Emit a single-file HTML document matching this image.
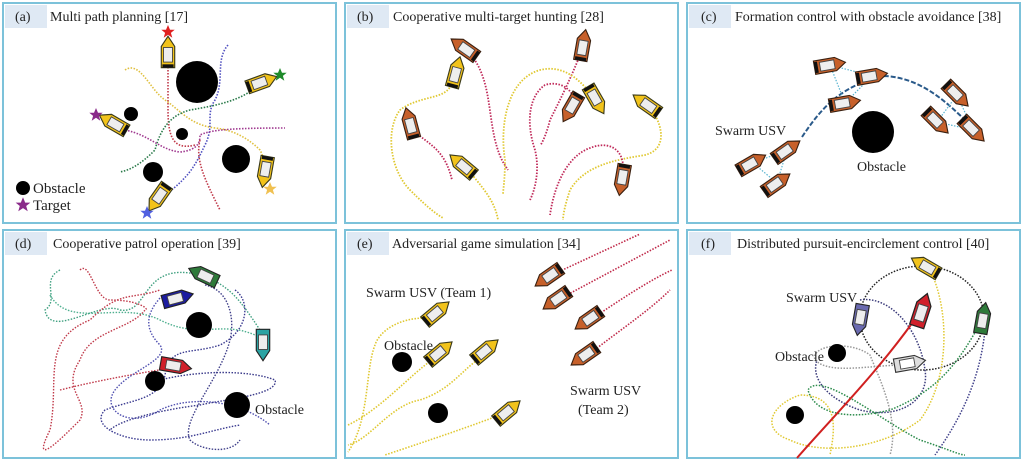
<!DOCTYPE html>
<html><head><meta charset="utf-8"><style>
html,body{margin:0;padding:0;background:#fff;width:1024px;height:461px;overflow:hidden}
svg{display:block}
text{font-family:"Liberation Serif",serif;fill:#222}
</style></head><body>
<svg width="1024" height="461" viewBox="0 0 1024 461" xmlns="http://www.w3.org/2000/svg">
<defs>
<g id="by" transform="scale(1.12)"><path d="M-14,-6 L5,-6 L14,0 L5,6 L-14,6 Z" fill="#f2c31a" stroke="#3a3a1a" stroke-width="1"/><rect x="-9" y="-4" width="13" height="8" fill="#eee" stroke="#444" stroke-width="0.8"/><rect x="-14" y="-5" width="3" height="10" fill="#111"/></g>
<g id="bb" transform="scale(1.12)"><path d="M-14,-6 L5,-6 L14,0 L5,6 L-14,6 Z" fill="#c7602a" stroke="#3a2010" stroke-width="1"/><rect x="-9" y="-4" width="13" height="8" fill="#eee" stroke="#444" stroke-width="0.8"/><rect x="-14" y="-5" width="3" height="10" fill="#111"/></g>
<g id="bg" transform="scale(1.12)"><path d="M-14,-6 L5,-6 L14,0 L5,6 L-14,6 Z" fill="#2e7a3a" stroke="#222" stroke-width="1"/><rect x="-9" y="-4" width="13" height="8" fill="#eee" stroke="#444" stroke-width="0.8"/></g>
<g id="bu" transform="scale(1.12)"><path d="M-14,-6 L5,-6 L14,0 L5,6 L-14,6 Z" fill="#1c1ca0" stroke="#222" stroke-width="1"/><rect x="-9" y="-4" width="13" height="8" fill="#eee" stroke="#444" stroke-width="0.8"/></g>
<g id="bc" transform="scale(1.12)"><path d="M-14,-6 L5,-6 L14,0 L5,6 L-14,6 Z" fill="#2aa3a3" stroke="#222" stroke-width="1"/><rect x="-9" y="-4" width="13" height="8" fill="#eee" stroke="#444" stroke-width="0.8"/></g>
<g id="br" transform="scale(1.12)"><path d="M-14,-6 L5,-6 L14,0 L5,6 L-14,6 Z" fill="#d0202a" stroke="#222" stroke-width="1"/><rect x="-9" y="-4" width="13" height="8" fill="#eee" stroke="#444" stroke-width="0.8"/></g>
<g id="bp" transform="scale(1.12)"><path d="M-14,-6 L5,-6 L14,0 L5,6 L-14,6 Z" fill="#6a6ab0" stroke="#222" stroke-width="1"/><rect x="-9" y="-4" width="13" height="8" fill="#eee" stroke="#444" stroke-width="0.8"/></g>
<g id="bw" transform="scale(1.12)"><path d="M-14,-6 L5,-6 L14,0 L5,6 L-14,6 Z" fill="#ddd" stroke="#333" stroke-width="1"/><rect x="-9" y="-4" width="13" height="8" fill="#fff" stroke="#444" stroke-width="0.8"/></g>
<path id="star" d="M0,-7 L2,-2.2 L6.7,-2.2 L2.9,0.9 L4.3,5.7 L0,2.8 L-4.3,5.7 L-2.9,0.9 L-6.7,-2.2 L-2,-2.2 Z"/>
</defs>

<g fill="none" stroke="#7cc2da" stroke-width="2">
<rect x="3" y="3" width="333" height="220"/><rect x="345" y="3" width="333" height="220"/><rect x="687" y="3" width="333" height="220"/>
<rect x="3" y="230" width="333" height="228"/><rect x="345" y="230" width="333" height="228"/><rect x="687" y="230" width="333" height="228"/>
</g>
<g fill="#dfe9f4">
<rect x="5" y="5" width="42" height="23"/><rect x="347" y="5" width="42" height="23"/><rect x="689" y="5" width="42" height="23"/>
<rect x="5" y="232" width="42" height="23"/><rect x="347" y="232" width="42" height="23"/><rect x="689" y="232" width="42" height="23"/>
</g>
<g font-size="14">
<text x="15" y="21">(a)</text><text x="50" y="21">Multi path planning [17]</text>
<text x="357" y="21">(b)</text><text x="393" y="21">Cooperative multi-target hunting [28]</text>
<text x="701" y="21">(c)</text><text x="735" y="21">Formation control with obstacle avoidance [38]</text>
<text x="15" y="248">(d)</text><text x="53" y="248">Cooperative patrol operation [39]</text>
<text x="357" y="248">(e)</text><text x="392" y="248">Adversarial game simulation [34]</text>
<text x="701" y="248">(f)</text><text x="737" y="248">Distributed pursuit-encirclement control [40]</text>
</g>

<!-- (a) -->
<g fill="none" stroke-width="1.6" stroke-dasharray="1.5 1.5">
<path d="M168,58 L168,110 C168,140 175,150 195,145" stroke="#c03a4a"/>
<path d="M125,70 C140,60 150,90 165,100 C180,110 190,125 215,128 C235,130 250,140 260,150 C265,160 265,165 265,170" stroke="#e0c040"/>
<path d="M228,45 C215,60 225,80 215,100 C205,115 215,125 205,145 C195,165 190,180 150,205" stroke="#5050c0"/>
<path d="M255,88 C240,100 220,105 190,110 C170,115 160,130 155,150 C140,165 130,170 120,172" stroke="#2a7a4a"/>
<path d="M125,130 C150,135 160,150 180,152 C200,150 200,140 200,135 C210,130 230,128 285,128" stroke="#a03a90"/>
<path d="M200,140 C195,160 205,180 220,210" stroke="#c03a4a"/>
</g>
<use href="#by" transform="translate(168,52) rotate(-90)"/>
<use href="#by" transform="translate(262,82) rotate(-20)"/>
<use href="#by" transform="translate(113,123) rotate(-150)"/>
<use href="#by" transform="translate(158,198) rotate(125)"/>
<use href="#by" transform="translate(265,172) rotate(100)"/>
<use href="#star" fill="#e02020" transform="translate(168,32)"/>
<use href="#star" fill="#1e8a2a" transform="translate(280,75)"/>
<use href="#star" fill="#8a2a8a" transform="translate(96,115)"/>
<use href="#star" fill="#5060e0" transform="translate(147,213)"/>
<use href="#star" fill="#f0c050" transform="translate(270,189)"/>
<g fill="#000"><circle cx="197" cy="82" r="21"/><circle cx="131" cy="114" r="7"/><circle cx="182" cy="134" r="6"/><circle cx="236" cy="159" r="14"/><circle cx="153" cy="172" r="10"/><circle cx="23" cy="188" r="7"/></g>
<use href="#star" fill="#8a2a8a" transform="translate(23,205) scale(1.1)"/>
<text x="33" y="193" font-size="15">Obstacle</text><text x="33" y="210" font-size="15">Target</text>

<!-- (b) -->
<g fill="none" stroke-width="1.8" stroke-dasharray="1.5 1.5">
<path d="M472,56 C490,80 488,110 495,140 C500,160 505,165 508,170" stroke="#c02a5a"/>
<path d="M451,85 C445,100 420,95 400,110 C385,130 390,170 410,190 C430,210 438,215 443,218" stroke="#e0c830"/>
<path d="M415,132 C430,145 445,150 452,180" stroke="#c02a5a"/>
<path d="M470,172 C480,185 495,200 498,220" stroke="#e0c830"/>
<path d="M580,55 C570,80 560,100 550,120 C545,140 540,145 541,145" stroke="#c02a5a"/>
<path d="M598,105 C580,75 560,65 540,70 C505,80 500,130 505,160 C505,180 503,190 503,195" stroke="#e0c830"/>
<path d="M575,105 C575,90 560,80 545,85 C530,95 525,120 535,150 C540,170 535,190 530,200" stroke="#c02a5a"/>
<path d="M652,110 C665,130 665,150 645,155 C615,160 585,165 570,190 C565,205 563,215 563,220" stroke="#e0c830"/>
<path d="M623,172 C625,150 610,140 590,148 C570,155 555,180 550,215" stroke="#c02a5a"/>
</g>
<use href="#bb" transform="translate(464,48) rotate(-145)"/>
<use href="#by" transform="translate(456,72) rotate(-75)"/>
<use href="#bb" transform="translate(410,123) rotate(-105)"/>
<use href="#by" transform="translate(462,165) rotate(-140)"/>
<use href="#bb" transform="translate(583,45) rotate(-80)"/>
<use href="#bb" transform="translate(571,108) rotate(120)"/>
<use href="#by" transform="translate(596,100) rotate(60)"/>
<use href="#by" transform="translate(646,104) rotate(-145)"/>
<use href="#bb" transform="translate(622,180) rotate(100)"/>

<!-- (c) -->
<path d="M802,137 C820,110 840,85 885,76 C920,78 945,100 970,125" fill="none" stroke="#2a5a8a" stroke-width="2" stroke-dasharray="5 2"/>
<g fill="none" stroke="#5ab4d0" stroke-width="1.2" stroke-dasharray="1.5 1.5">
<path d="M830,65 L872,76 L845,103 Z"/><path d="M957,95 L937,122 L973,130 Z"/><path d="M787,150 L753,163 L777,183 Z"/>
</g>
<use href="#bb" transform="translate(830,65) rotate(-10)"/>
<use href="#bb" transform="translate(872,76) rotate(-10)"/>
<use href="#bb" transform="translate(845,103) rotate(-10)"/>
<use href="#bb" transform="translate(957,95) rotate(45)"/>
<use href="#bb" transform="translate(937,122) rotate(45)"/>
<use href="#bb" transform="translate(973,130) rotate(45)"/>
<use href="#bb" transform="translate(787,150) rotate(-35)"/>
<use href="#bb" transform="translate(752,163) rotate(-30)"/>
<use href="#bb" transform="translate(777,183) rotate(-35)"/>
<circle cx="873" cy="132" r="21" fill="#000"/>
<text x="715" y="135" font-size="14">Swarm USV</text><text x="857" y="171" font-size="14">Obstacle</text>

<!-- (d) -->
<g fill="none" stroke-width="1.4" stroke-dasharray="1.5 1.5">
<path d="M60,270 C40,280 60,300 45,310 C50,340 100,300 120,310 C150,315 140,260 200,275 C230,285 240,300 260,330" stroke="#40a080"/>
<path d="M50,295 C70,330 120,300 160,320 C200,340 220,320 255,335" stroke="#50b090"/>
<path d="M80,270 C90,260 95,300 110,300 C140,300 150,310 145,310 C130,330 90,330 80,360 C60,390 90,400 80,420 C60,440 30,470 50,430 C60,380 40,340 90,320 C120,290 130,300 160,290" stroke="#c03a4a"/>
<path d="M60,390 C100,380 130,375 170,368" stroke="#c03a4a"/>
<path d="M160,298 C145,315 145,330 160,345 C170,360 130,370 115,390 C100,410 130,430 160,410 C190,395 240,400 270,425" stroke="#5050b0"/>
<path d="M235,290 C250,300 250,330 220,345 C190,355 170,345 165,375 C160,400 130,400 105,410 C90,425 120,440 150,440 C190,440 210,430 240,425" stroke="#3a3a90"/>
<path d="M205,285 C230,290 235,320 230,340 C220,380 180,420 190,440 C200,450 230,455 240,440" stroke="#40408a"/>
<path d="M160,380 C200,370 250,370 275,380 C280,395 220,400 200,405 C160,410 120,420 110,430" stroke="#3a3a8a"/>
</g>
<use href="#bg" transform="translate(203,275) rotate(-155)"/>
<use href="#bu" transform="translate(178,298) rotate(-15)"/>
<use href="#bc" transform="translate(263,345) rotate(90)"/>
<use href="#br" transform="translate(176,366) rotate(10)"/>
<g fill="#000"><circle cx="199" cy="325" r="13"/><circle cx="155" cy="381" r="10"/><circle cx="237" cy="405" r="13"/></g>
<text x="255" y="414" font-size="14">Obstacle</text>

<!-- (e) -->
<g fill="none" stroke-width="1.6" stroke-dasharray="1.5 1.5">
<path d="M425,318 C400,318 380,330 375,345 C365,370 370,420 348,452" stroke="#e0c830"/>
<path d="M432,360 C410,375 380,410 348,425" stroke="#e0c830"/>
<path d="M480,358 C460,372 450,390 420,400 C390,405 370,440 348,445" stroke="#e0c830"/>
<path d="M500,415 C460,430 430,440 385,455" stroke="#e0c830"/>
<g stroke="#c02a4a"><path d="M556,273 L640,234"/><path d="M565,296 L670,240"/><path d="M596,316 C620,300 650,280 672,270"/><path d="M592,352 C620,330 650,310 670,290"/></g>
</g>
<use href="#by" transform="translate(437,312) rotate(-40)"/>
<use href="#by" transform="translate(440,352) rotate(-40)"/>
<use href="#by" transform="translate(486,350) rotate(-40)"/>
<use href="#by" transform="translate(508,411) rotate(-40)"/>
<use href="#bb" transform="translate(548,277) rotate(145)"/>
<use href="#bb" transform="translate(556,300) rotate(145)"/>
<use href="#bb" transform="translate(588,320) rotate(145)"/>
<use href="#bb" transform="translate(584,356) rotate(145)"/>
<g fill="#000"><circle cx="402" cy="362" r="10"/><circle cx="438" cy="413" r="10"/></g>
<g font-size="14"><text x="366" y="297">Swarm USV (Team 1)</text><text x="384" y="350">Obstacle</text><text x="570" y="395">Swarm USV</text><text x="578" y="414">(Team 2)</text></g>

<!-- (f) -->
<g fill="none" stroke-width="1.5" stroke-dasharray="1.5 1.5">
<ellipse cx="922" cy="318" rx="62" ry="52" stroke="#222"/>
<path d="M860,300 C890,295 920,330 925,370 C930,400 900,420 860,410 C830,400 810,380 817,360" stroke="#3a3a7a"/>
<path d="M982,320 C960,360 940,390 890,410 C850,420 815,415 808,390 C820,370 880,420 920,440 C950,450 960,455 965,455" stroke="#2a8a4a"/>
<path d="M905,365 C870,365 830,375 815,360 C810,345 850,340 870,355 C880,380 900,420 890,455" stroke="#999"/>
<path d="M930,270 C950,310 950,380 920,420 C880,450 820,455 790,440 C760,430 770,405 800,395 C840,395 835,430 830,455" stroke="#e0c830"/>
<path d="M985,330 C980,380 960,420 935,455" stroke="#40408a"/>
</g>
<path d="M797,458 C830,420 880,370 920,312" fill="none" stroke="#d02020" stroke-width="2"/>
<use href="#by" transform="translate(925,266) rotate(-150)"/>
<use href="#br" transform="translate(922,310) rotate(-72) scale(1.1)"/>
<use href="#bg" transform="translate(983,318) rotate(-80)"/>
<use href="#bp" transform="translate(860,320) rotate(100)"/>
<use href="#bw" transform="translate(910,363) rotate(-10)"/>
<g fill="#000"><circle cx="837" cy="353" r="9"/><circle cx="795" cy="415" r="9"/></g>
<g font-size="14"><text x="786" y="302">Swarm USV</text><text x="775" y="361">Obstacle</text></g>
</svg>
</body></html>
